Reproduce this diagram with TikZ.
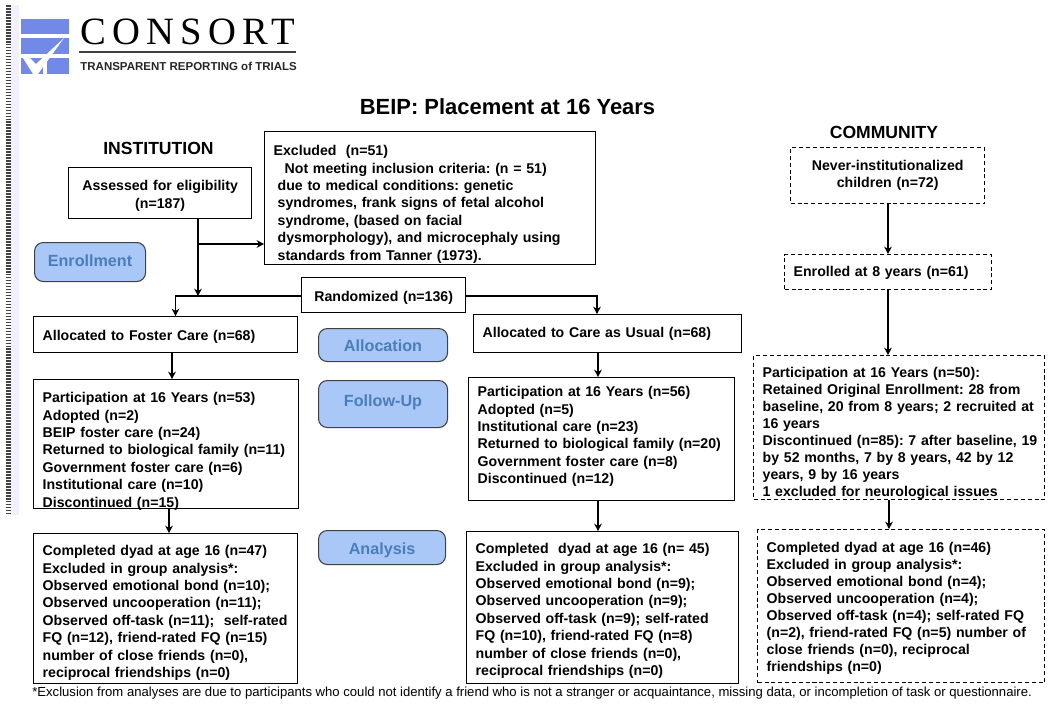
\documentclass[tikz,border=0pt]{standalone}
\usepackage{fontspec}
\setmainfont{Liberation Sans}
\newfontfamily\logofont[LetterSpace=16]{Liberation Serif}
\usetikzlibrary{arrows.meta, calc, positioning}

\definecolor{pillblue}{HTML}{A9C8F7}
\definecolor{pilltext}{HTML}{4A7EBB}
\definecolor{logoblue}{HTML}{7389E8}
\def\px{0.02cm}

\tikzset{
  flowbox/.style={draw, line width=0.75pt, anchor=north west, align=left, inner ysep=0pt,
    inner xsep=9*\px, font=\fontsize{8.05pt}{9.9pt}\selectfont\bfseries},
  dashbox/.style={flowbox, dashed, dash pattern=on 2.3pt off 1.6pt,
    font=\fontsize{8.05pt}{9.7pt}\selectfont\bfseries},
  stagepill/.style={draw=black!75, line width=0.6pt, fill=pillblue, rounded corners=5pt, anchor=north west,
    text=pilltext, inner sep=0pt, font=\fontsize{9.2pt}{11pt}\selectfont\bfseries},
  heading/.style={font=\fontsize{10pt}{12pt}\selectfont\bfseries, inner sep=0pt},
  flow/.style={-{Stealth[length=4.2pt,width=4.4pt]}, line width=0.8pt},
  logobar/.style={fill=logoblue, draw=none}
}

\begin{document}
\frenchspacing
\begin{tikzpicture}[x=\px, y=-\px]
  \useasboundingbox (0,0) rectangle (1050,703);
  % strip on the left edge
  \fill[blue!6] (11,5) rectangle (19,515);
  \draw[black!75, line width=2.8pt, dash pattern=on 0.95pt off 0.75pt] (8.5,5) -- (8.5,515);
  % logo
  \fill[logobar] (21,19) rectangle (69,34);
  \fill[logobar] (21,38) rectangle (69,54);
  \fill[logobar] (21,58) rectangle (43,74);
  \fill[logobar] (47,58) rectangle (69,74);
  \fill[white] (23,58) -- (33,74) -- (38,74) -- (64,38) -- (36,64) -- (30,58) -- cycle;
  \fill[white] (21,54) rectangle (69,58);
  \fill[white] (43,54) rectangle (47,74);
  \node[font=\logofont\fontsize{22pt}{24pt}\selectfont, anchor=west, inner sep=0pt] (logoname) at (80,31.5) {CONSORT};
  \draw[black!75, line width=0.7pt] (79,52) -- (296,52);
  \node[font=\fontsize{6.55pt}{8pt}\selectfont\bfseries, text=black!85, anchor=west, inner sep=0pt] (logotag) at (80,66) {TRANSPARENT REPORTING of TRIALS};
  % titles
  \node[font=\fontsize{12.5pt}{14pt}\selectfont\bfseries, inner sep=0pt] (title) at (507.5,107) {BEIP: Placement at 16 Years};
  \node[heading] (institution) at (158.5,148) {INSTITUTION};
  \node[heading] (community) at (884,132) {COMMUNITY};
  % stage labels
  \node[stagepill, minimum width=111*\px, text height=24*\px, text depth=15*\px] (enrollment) at (34,242) {Enrollment};
  \node[stagepill, minimum width=129*\px, text height=23*\px, text depth=10*\px] (allocation) at (318,328) {Allocation};
  \node[stagepill, minimum width=129*\px, text height=26*\px, text depth=21*\px] (followup) at (318,380) {Follow-Up};
  \node[stagepill, minimum width=127*\px, text height=24*\px, text depth=10*\px] (analysis) at (318,530) {Analysis};
  % institution arm
  \node[flowbox, align=center, text width=165*\px, text height=23*\px, text depth=28*\px] (assessed) at (68,167) {Assessed for eligibility\\(n=187)};
  \node[flowbox, text width=313*\px, text height=24*\px, text depth=109*\px] (excluded) at (264,131)
    {Excluded\ \ (n=51)\\
     \hspace*{0.22cm}Not meeting inclusion criteria: (n = 51)\\
     \hspace*{0.08cm}due to medical conditions: genetic\\
     \hspace*{0.08cm}syndromes, frank signs of fetal alcohol\\
     \hspace*{0.08cm}syndrome, (based on facial\\
     \hspace*{0.08cm}dysmorphology), and microcephaly using\\
     \hspace*{0.08cm}standards from Tanner (1973).};
  \node[flowbox, align=center, text width=146*\px, text height=24*\px, text depth=11*\px] (randomized) at (301,277) {Randomized (n=136)};
  \node[flowbox, text width=246*\px, text height=24*\px, text depth=12*\px] (fosteralloc) at (33,316) {Allocated to Foster Care (n=68)};
  \node[flowbox, text width=250*\px, text height=23*\px, text depth=15*\px] (usualalloc) at (473,314) {Allocated to Care as Usual (n=68)};
  \node[flowbox, text width=247*\px, text height=23*\px, text depth=106*\px] (fosterpart) at (33,379)
    {Participation at 16 Years (n=53)\\
     Adopted (n=2)\\
     BEIP foster care (n=24)\\
     Returned to biological family (n=11)\\
     Government foster care (n=6)\\
     Institutional care (n=10)\\
     Discontinued (n=15)};
  \node[flowbox, text width=248*\px, text height=19*\px, text depth=104*\px] (usualpart) at (468,377)
    {Participation at 16 Years (n=56)\\
     Adopted (n=5)\\
     Institutional care (n=23)\\
     Returned to biological family (n=20)\\
     Government foster care (n=8)\\
     Discontinued (n=12)};
  \node[flowbox, text width=246*\px, text height=22*\px, text depth=128*\px] (fosterdyad) at (33,533)
    {Completed dyad at age 16 (n=47)\\
     Excluded in group analysis*:\\
     Observed emotional bond (n=10);\\
     Observed uncooperation (n=11);\\
     Observed off-task (n=11);\ \ self-rated\\
     FQ (n=12), friend-rated FQ (n=15)\\
     number of close friends (n=0),\\
     reciprocal friendships (n=0)};
  \node[flowbox, text width=254*\px, text height=22*\px, text depth=130*\px] (usualdyad) at (466,531)
    {Completed\ \ dyad at age 16 (n= 45)\\
     Excluded in group analysis*:\\
     Observed emotional bond (n=9);\\
     Observed uncooperation (n=9);\\
     Observed off-task (n=9); self-rated\\
     FQ (n=10), friend-rated FQ (n=8)\\
     number of close friends (n=0),\\
     reciprocal friendships (n=0)};
  % community arm
  \node[dashbox, align=center, text width=176*\px, text height=23*\px, text depth=33*\px] (never) at (790,147) {Never-institutionalized\\children (n=72)};
  \node[dashbox, text width=189*\px, text height=22*\px, text depth=13*\px, inner xsep=9*\px] (enrolled) at (784,254) {Enrolled at 8 years (n=61)};
  \node[dashbox, text width=273*\px, text height=22*\px, text depth=122*\px] (commpart) at (753,355)
    {Participation at 16 Years (n=50):\\
     Retained Original Enrollment: 28 from\\
     baseline, 20 from 8 years; 2 recruited at\\
     16 years\\
     \mbox{Discontinued (n=85): 7 after baseline, 19}\\
     by 52 months, 7 by 8 years, 42 by 12\\
     years, 9 by 16 years\\
     1 excluded for neurological issues};
  \node[dashbox, text width=269*\px, text height=23*\px, text depth=130*\px] (commdyad) at (757,529)
    {Completed dyad at age 16 (n=46)\\
     Excluded in group analysis*:\\
     Observed emotional bond (n=4);\\
     Observed uncooperation (n=4);\\
     Observed off-task (n=4); self-rated FQ\\
     (n=2), friend-rated FQ (n=5) number of\\
     close friends (n=0), reciprocal\\
     friendships (n=0)};
  % footnote
  \node[font=\fontsize{7.46pt}{9pt}\selectfont, anchor=west, inner sep=0pt] (footnote) at (32,693) {*Exclusion from analyses are due to participants who could not identify a friend who is not a stranger or acquaintance, missing data, or incompletion of task or questionnaire.};
  % junctions
  \coordinate (trunk) at (198,296);
  \coordinate (branch) at (198,244);
  \coordinate (leftdrop) at (175.5,296);
  \coordinate (rightdrop) at (597,296);
  % connectors
  \draw[flow] (assessed.south -| trunk) -- (trunk);
  \draw[flow] (branch) -- (branch -| excluded.west);
  \draw[flow] (randomized.west |- trunk) -- (leftdrop) -- (leftdrop |- fosteralloc.north);
  \draw[flow] (randomized.east |- trunk) -- (rightdrop) -- (rightdrop |- usualalloc.north);
  \coordinate (fosterdrop) at (172,0);
  \draw[flow] (fosteralloc.south -| fosterdrop) -- (fosterdrop |- fosterpart.north);
  \coordinate (usualx) at (598,0);
  \draw[flow] (usualalloc.south -| usualx) -- (usualx |- usualpart.north);
  \coordinate (fosterx) at (169,0);
  \draw[flow] (fosterpart.south -| fosterx) -- (fosterx |- fosterdyad.north);
  \draw[flow] (usualpart.south -| usualx) -- (usualx |- usualdyad.north);
  \coordinate (commx) at (888,0);
  \draw[flow] (never.south -| commx) -- (commx |- enrolled.north);
  \draw[flow] (enrolled.south -| commx) -- (commx |- commpart.north);
  \coordinate (commy) at (889,0);
  \draw[flow] (commpart.south -| commy) -- (commy |- commdyad.north);
\end{tikzpicture}
\end{document}
